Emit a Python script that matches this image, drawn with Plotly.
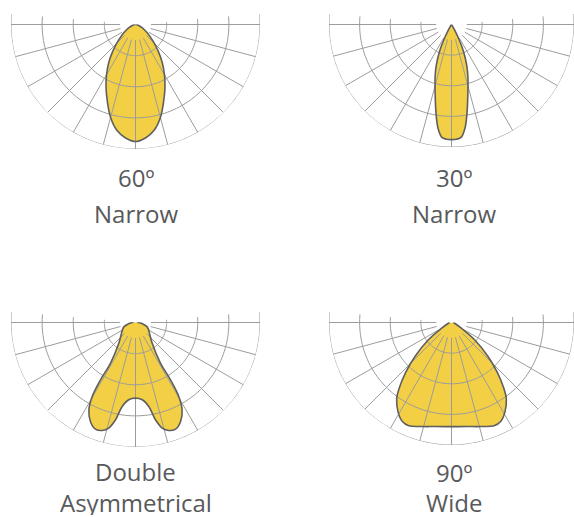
import math
import plotly.graph_objects as go

W, H = 574, 517

# ---- data: luminous intensity outlines (right half, mirrored), radial units = grid rings
narrow60_theta = [0, 5, 10, 15, 20, 25, 30, 35, 40, 45, 50, 55, 60, 65, 70, 80, 90]
narrow60_r = [3.76, 3.66, 3.45, 3.09, 2.64, 2.24, 1.86, 1.50, 1.15, 0.85, 0.62, 0.45, 0.32, 0.22, 0.14, 0.05, 0.0]

narrow30_theta = [0, 2.5, 5, 7.5, 10, 12.5, 15, 17.5, 20, 22.5, 25, 27.5, 30, 32.5, 40]
narrow30_r = [3.76, 3.75, 3.69, 3.40, 2.92, 2.45, 2.08, 1.78, 1.48, 1.15, 0.82, 0.45, 0.20, 0.07, 0.0]

double_theta = [0, 5, 9, 11.6, 14.2, 17.1, 20.6, 24.4, 28.1, 30.3, 31.4, 31.6, 38.9, 50, 62, 70, 80, 90, 180]
double_r = [2.43, 2.49, 2.73, 3.19, 3.50, 3.63, 3.66, 3.50, 3.18, 2.76, 2.16, 1.53, 0.85, 0.60, 0.47, 0.39, 0.22, 0.10, 0.065]

wide90_theta = [0, 9, 15.8, 22.4, 26.4, 30.9, 35.8, 38.4, 42.6, 47.2, 53.4, 60.3, 75, 90]
wide90_r = [3.40, 3.44, 3.53, 3.65, 3.61, 3.40, 3.06, 2.76, 2.21, 1.61, 0.93, 0.37, 0.12, 0.06]

label_top = ["60º", "30º", "Double", "90º"]
label_bottom = ["Narrow", "Narrow", "Asymmetrical", "Wide"]

ring_values = [1, 2, 3, 4]
spoke_angles = list(range(-180, 180, 15))
spoke_start = 0.5
r_max = 4

# ---- styling
FILL = "#F2CF44"
OUTLINE = "#5f5f5f"
GRID = "#9c9c9c"
TEXT = "#58595b"
FONT = "Open Sans"

panels = [
    dict(theta=narrow60_theta, r=narrow60_r, cx=135.5, cy=24.5, R=124.5),
    dict(theta=narrow30_theta, r=narrow30_r, cx=451.5, cy=24.5, R=122.5),
    dict(theta=double_theta, r=double_r, cx=135.5, cy=322.5, R=124.5),
    dict(theta=wide90_theta, r=wide90_r, cx=451.5, cy=322.5, R=122.5),
]
label_pos = [
    (135.5, 177.5, 213.0),
    (454.0, 177.5, 213.0),
    (135.5, 471.0, 501.5),
    (454.0, 471.5, 501.5),
]

SECT_EXT = 5.0
ext = math.sin(math.radians(SECT_EXT))


def mirror(theta, r):
    th = [-t for t in reversed(theta)] + list(theta[1:])
    rr = list(reversed(r)) + list(r[1:])
    return th, rr


fig = go.Figure()
layout_polars = {}
for i, p in enumerate(panels):
    name = "polar" if i == 0 else f"polar{i + 1}"
    th, rr = mirror(p["theta"], p["r"])
    # filled distribution
    fig.add_trace(go.Scatterpolar(r=rr, theta=th, mode="lines", fill="toself",
                                  fillcolor=FILL, line=dict(color="rgba(0,0,0,0)", width=0, shape="spline"),
                                  subplot=name, hoverinfo="skip", showlegend=False))
    # grid: spokes
    sr, st = [], []
    for a in spoke_angles:
        sr += [spoke_start, r_max, None]
        st += [a, a, None]
    fig.add_trace(go.Scatterpolar(r=sr, theta=st, mode="lines", line=dict(color=GRID, width=1),
                                  subplot=name, hoverinfo="skip", showlegend=False))
    # grid: rings
    cr, ct = [], []
    for rv in ring_values:
        for a in range(0, 361, 2):
            cr.append(rv)
            ct.append(a)
        cr.append(None)
        ct.append(None)
    fig.add_trace(go.Scatterpolar(r=cr, theta=ct, mode="lines", line=dict(color=GRID, width=1),
                                  subplot=name, hoverinfo="skip", showlegend=False))
    # outline
    fig.add_trace(go.Scatterpolar(r=rr, theta=th, mode="lines",
                                  line=dict(color=OUTLINE, width=1.6, shape="spline"),
                                  subplot=name, hoverinfo="skip", showlegend=False))
    R, cx, cy = p["R"], p["cx"], p["cy"]
    x0, x1 = (cx - R) / W, min(1.0, (cx + R) / W)
    ytop = cy - R * ext
    ybot = cy + R
    layout_polars[name] = dict(
        domain=dict(x=[x0, x1], y=[1 - ybot / H, 1 - ytop / H]),
        sector=[180 - SECT_EXT, 360 + SECT_EXT],
        bgcolor="white",
        radialaxis=dict(range=[0, r_max], showgrid=False, showline=False, showticklabels=False,
                        ticks="", visible=False),
        angularaxis=dict(rotation=-90, direction="counterclockwise", showgrid=False,
                         showline=False, showticklabels=False, ticks=""),
    )

annotations = []
for (lx, y1, y2), t1, t2 in zip(label_pos, label_top, label_bottom):
    for yy, txt in ((y1, t1), (y2, t2)):
        annotations.append(dict(x=lx / W, y=1 - yy / H, xref="paper", yref="paper",
                                text=txt, showarrow=False, xanchor="center", yanchor="middle",
                                height=26, valign="middle",
                                font=dict(family=FONT, size=24, color=TEXT)))

fig.update_layout(width=W, height=H, margin=dict(l=0, r=0, t=0, b=0),
                  paper_bgcolor="white", plot_bgcolor="white",
                  annotations=annotations, showlegend=False, **layout_polars)

fig.write_html("out.html", config={"displayModeBar": False},
               post_script="document.body.style.margin='0';document.body.style.padding='0';")
